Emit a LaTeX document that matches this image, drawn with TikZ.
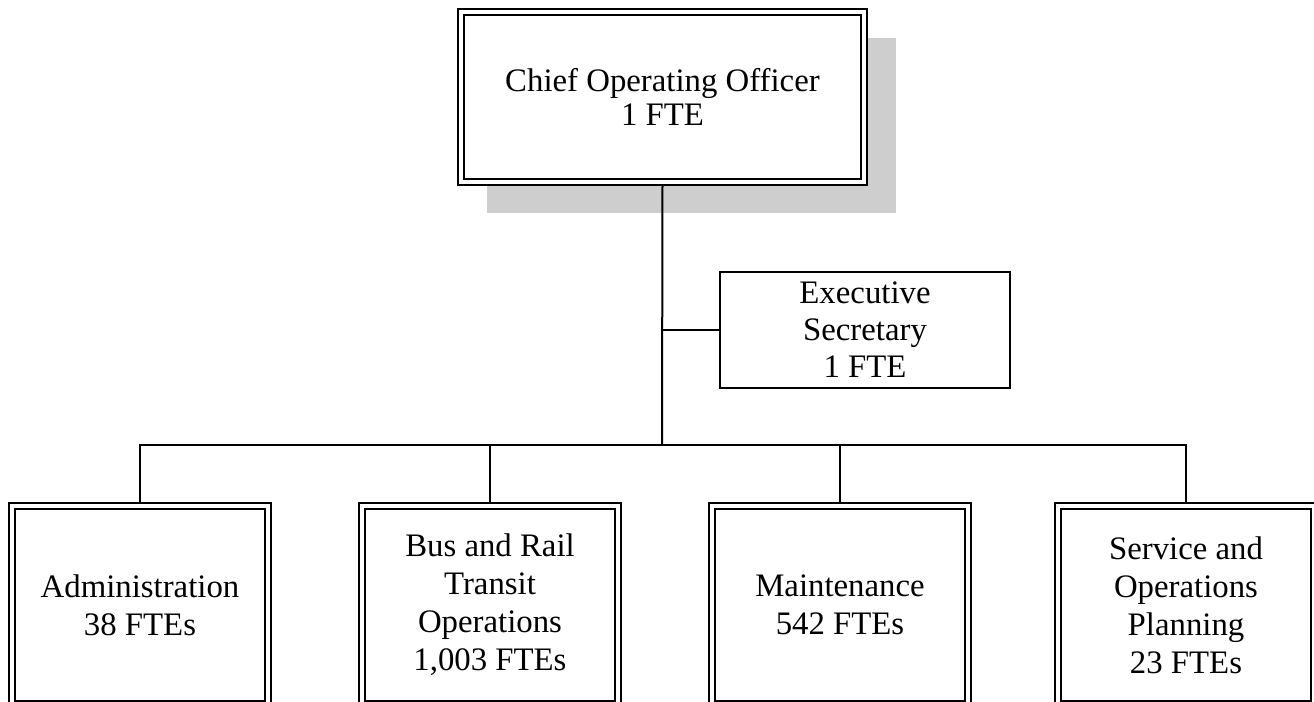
\documentclass[tikz,border=0pt]{standalone}
\usepackage{fontspec}
\setmainfont{Liberation Serif}
\definecolor{shadowgray}{RGB}{206,206,206}
\begin{document}
\begin{tikzpicture}[x=0.5pt,y=-0.5pt,
  dbox/.style={draw, double, line width=1pt, double distance=2pt,
    inner sep=0pt, outer sep=1.5pt, align=center, fill=white,
    font=\fontsize{16.4}{19}\selectfont},
  bottombox/.style={dbox, minimum width=128pt, minimum height=99pt},
  sbox/.style={draw, line width=1pt, inner sep=0pt, align=center,
    minimum width=145pt, minimum height=58pt,
    font=\fontsize{16.4}{18.5}\selectfont},
  link/.style={line width=1pt}]
\useasboundingbox (0,0) rectangle (1314,702);
\clip (0,0) rectangle (1314,702);
% shadow of the top box
\fill[shadowgray] (487,38) rectangle (896,213);
% nodes
\node[dbox, minimum width=201.5pt, minimum height=85pt,
      font=\fontsize{16.4}{17}\selectfont] (coo) at (662.5,97)
      {Chief Operating Officer\\1 FTE};
\node[sbox] (sec) at (865,330) {Executive\\Secretary\\1 FTE};
\node[bottombox] (adm) at (140,605) {Administration\\38 FTEs};
\node[bottombox] (bus) at (490,605) {Bus and Rail\\Transit\\Operations\\1,003 FTEs};
\node[bottombox] (mnt) at (840,605) {Maintenance\\542 FTEs};
\node[bottombox] (svc) at (1186,605) {Service and\\Operations\\Planning\\23 FTEs};
% connector points
\coordinate (hub) at (662,445);
\coordinate (tap) at (662,330);
% connectors
\draw[link] (coo.south) -- (hub);
\draw[link] (tap) -- (sec.west);
\draw[link] (adm.north) |- (hub) -| (svc.north);
\draw[link] (bus.north) -- (bus.north |- hub);
\draw[link] (mnt.north) -- (mnt.north |- hub);
\end{tikzpicture}
\end{document}
